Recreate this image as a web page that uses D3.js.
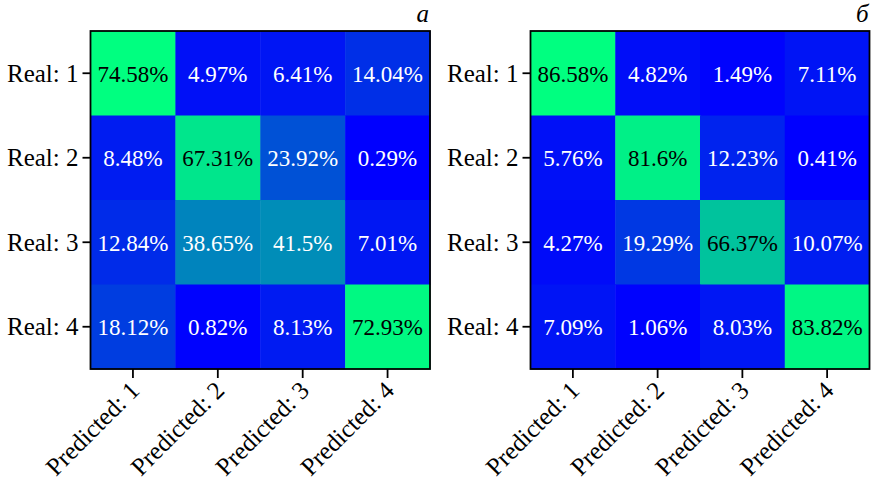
<!DOCTYPE html>
<html>
<head>
<meta charset="utf-8">
<script src="https://cdn.jsdelivr.net/npm/d3@7"></script>
<style>
  html, body { margin: 0; padding: 0; background: #fff; }
  svg { display: block; }
  text { font-family: "Liberation Serif", "DejaVu Serif", serif; }
</style>
</head>
<body>
<svg id="chart" width="871" height="485"></svg>
<script>
const realLabels = ["Real: 1", "Real: 2", "Real: 3", "Real: 4"];
const predLabels = ["Predicted: 1", "Predicted: 2", "Predicted: 3", "Predicted: 4"];

const valuesA = [
  [74.58, 4.97, 6.41, 14.04],
  [8.48, 67.31, 23.92, 0.29],
  [12.84, 38.65, 41.5, 7.01],
  [18.12, 0.82, 8.13, 72.93]
];
const valuesB = [
  [86.58, 4.82, 1.49, 7.11],
  [5.76, 81.6, 12.23, 0.41],
  [4.27, 19.29, 66.37, 10.07],
  [7.09, 1.06, 8.03, 83.82]
];
const titles = ["a", "б"];

const svg = d3.select("#chart");

// matplotlib "winter" colormap
function winter(t) {
  return d3.rgb(0, Math.round(t * 255), Math.round((1 - 0.5 * t) * 255)).toString();
}

function drawPanel(values, title, left, right, top, bottom) {
  const g = svg.append("g");
  const x = d3.scaleBand().domain(predLabels).range([left, right]);
  const y = d3.scaleBand().domain(realLabels).range([top, bottom]);
  const flat = values.flat();
  const color = d3.scaleSequential(winter).domain([d3.min(flat), d3.max(flat)]);

  const cells = [];
  values.forEach((row, i) => row.forEach((v, j) => cells.push({r: realLabels[i], c: predLabels[j], v})));

  g.selectAll("rect.cell").data(cells).join("rect")
    .attr("class", "cell")
    .attr("x", d => x(d.c))
    .attr("y", d => y(d.r))
    .attr("width", x.bandwidth() + 0.5)
    .attr("height", y.bandwidth() + 0.5)
    .attr("fill", d => color(d.v));

  g.selectAll("text.val").data(cells).join("text")
    .attr("class", "val")
    .attr("x", d => x(d.c) + x.bandwidth() / 2)
    .attr("y", d => y(d.r) + y.bandwidth() / 2)
    .attr("dy", "0.36em")
    .attr("text-anchor", "middle")
    .attr("font-size", 23)
    .attr("fill", d => d.v >= 50 ? "#000" : "#fff")
    .text(d => d.v + "%");

  // frame
  g.append("rect")
    .attr("x", left).attr("y", top)
    .attr("width", right - left).attr("height", bottom - top)
    .attr("fill", "none").attr("stroke", "#000").attr("stroke-width", 1.8);

  // y axis
  const yAxis = d3.axisLeft(y).tickSize(8).tickPadding(4);
  const ya = g.append("g").attr("transform", `translate(${left},0)`).call(yAxis);
  ya.select(".domain").remove();
  ya.selectAll(".tick line").attr("stroke", "#000").attr("stroke-width", 1.8);
  ya.selectAll(".tick text")
    .attr("font-size", 25)
    .attr("fill", "#000")
    .attr("dy", "0.34em")
    .style("font-family", '"Liberation Serif", serif');

  // x axis
  const xAxis = d3.axisBottom(x).tickSize(9);
  const xa = g.append("g").attr("transform", `translate(0,${bottom})`).call(xAxis);
  xa.select(".domain").remove();
  xa.selectAll(".tick line").attr("stroke", "#000").attr("stroke-width", 1.8);
  xa.selectAll(".tick text")
    .attr("font-size", 25)
    .attr("fill", "#000")
    .attr("text-anchor", "end")
    .attr("x", 0).attr("y", 0).attr("dy", 0)
    .attr("transform", "translate(8,23) rotate(-45)")
    .style("font-family", '"Liberation Serif", serif');

  // title (right aligned)
  g.append("text")
    .attr("x", right - 1)
    .attr("y", 22)
    .attr("text-anchor", "end")
    .attr("font-size", 25)
    .attr("font-style", "italic")
    .attr("fill", "#000")
    .text(title);
}

drawPanel(valuesA, titles[0], 90.5, 430, 31, 369);
drawPanel(valuesB, titles[1], 530.5, 869.5, 31, 369);
</script>
</body>
</html>
